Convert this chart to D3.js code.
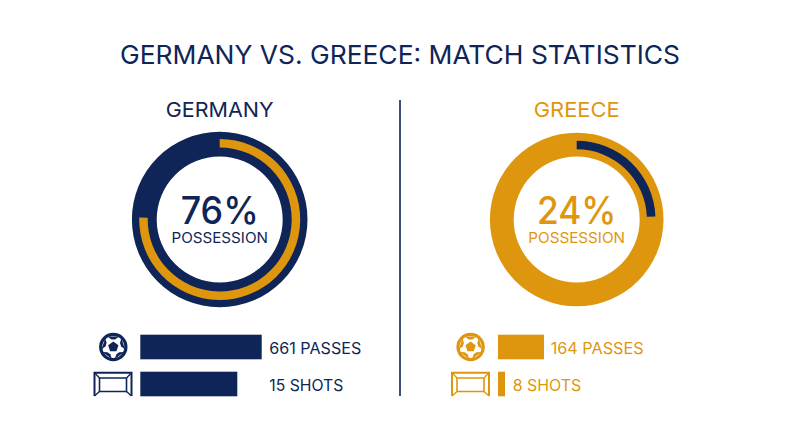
<!DOCTYPE html>
<html><head><meta charset="utf-8">
<script src="https://cdnjs.cloudflare.com/ajax/libs/d3/7.8.5/d3.min.js"></script>
<style>html,body{margin:0;padding:0;background:#fff}svg{display:block}text{font-family:Inter,"Open Sans",sans-serif}</style>
</head><body><svg id="c" width="800" height="447"></svg>
<script>
const titleText = "GERMANY VS. GREECE: MATCH STATISTICS";
const teams = ["GERMANY", "GREECE"];
const possession = [76, 24];
const ringDrawn = [75.4, 24.4];
const passes = [661, 164];
const shots = [15, 8];
const teamColors = ["#0f2557", "#df960f"];
const passLabel = "PASSES", shotLabel = "SHOTS", possessionLabel = "POSSESSION";

const svg = d3.select("#c");
const navy = teamColors[0];
const ringCx = [219.7, 576.7], ringCy = 219.5;
const barX = [140.3, 498];
const passX = d3.scaleLinear().domain([164, 661]).range([46, 121.4]);
const shotX = d3.scaleLinear().domain([8, 15]).range([7, 97]);
const angle = d3.scaleLinear().domain([0, 100]).range([0, 2 * Math.PI]);

function fit(t, len) { return t.attr("textLength", len).attr("lengthAdjust", "spacingAndGlyphs"); }

fit(svg.append("text").attr("x", 400).attr("y", 64.3).attr("text-anchor", "middle")
  .attr("font-size", 25.8).attr("font-weight", 400).attr("fill", navy).text(titleText), 560);

svg.append("line").attr("x1", 400).attr("x2", 400).attr("y1", 100).attr("y2", 396)
  .attr("stroke", navy).attr("stroke-width", 1.6);

const layout = [
  {name: 108, pct: 78, poss: 96.5, pl: 92, sl: 74, plx: 269.3, slx: 269.3, ballX: 113.3, goalX: 113, R: 87.8, a0: 72, a1: 80.5},
  {name: 86, pct: 79.5, poss: 96.7, pl: 93, sl: 68.6, plx: 550.7, slx: 512.7, ballX: 470.6, goalX: 470.5, R: 86.8, a0: 70.2, a1: 78.8}
];

teams.forEach((team, i) => {
  const fg = teamColors[i], other = teamColors[1 - i];
  const g = svg.append("g");
  const L = layout[i], cx = ringCx[i];
  fit(g.append("text").attr("x", cx).attr("y", 116.7).attr("text-anchor", "middle")
    .attr("font-size", 20.6).attr("fill", fg).text(team), L.name);

  const ring = g.append("g").attr("transform", `translate(${cx},${ringCy})`);
  ring.append("path").attr("fill", fg)
    .attr("d", d3.arc().innerRadius(63).outerRadius(L.R).startAngle(0).endAngle(2 * Math.PI)());
  ring.append("path").attr("fill", other)
    .attr("d", d3.arc().innerRadius(L.a0).outerRadius(L.a1).startAngle(0).endAngle(angle(ringDrawn[i]))());

  fit(g.append("text").attr("x", cx).attr("y", 224).attr("text-anchor", "middle")
    .attr("font-size", 37.5).attr("font-weight", 500).attr("fill", fg).text(possession[i] + "%"), L.pct);
  fit(g.append("text").attr("x", cx).attr("y", 243.3).attr("text-anchor", "middle")
    .attr("font-size", 14.5).attr("fill", fg).text(possessionLabel), L.poss);

  g.append("rect").attr("x", barX[i]).attr("y", 334.7).attr("height", 24.6)
    .attr("width", passX(passes[i])).attr("fill", fg);
  g.append("rect").attr("x", barX[i]).attr("y", 371.7).attr("height", 24.6)
    .attr("width", shotX(shots[i])).attr("fill", fg);

  fit(g.append("text").attr("x", L.plx).attr("y", 353.8).attr("font-size", 15.6)
    .attr("fill", fg).text(passes[i] + " " + passLabel), L.pl);
  fit(g.append("text").attr("x", L.slx).attr("y", 390.8).attr("font-size", 15.6)
    .attr("fill", fg).text(shots[i] + " " + shotLabel), L.sl);

  // ball icon
  const ball = g.append("g").attr("transform", `translate(${L.ballX},347)`);
  ball.append("circle").attr("r", 14.2).attr("fill", fg);
  ball.append("circle").attr("r", 11).attr("fill", "#fff");
  const poly = (r, n) => d3.range(n).map(k => {
    const a = k * 2 * Math.PI / n; return [r * Math.sin(a), -r * Math.cos(a)];
  });
  ball.append("path").attr("fill", fg).attr("d", d3.line()(poly(5.4, 5)) + "Z");
  d3.range(5).forEach(k => {
    const a = k * 2 * Math.PI / 5;
    const p = (r, d) => [r * Math.sin(a + d), -r * Math.cos(a + d)];
    ball.append("path").attr("fill", fg)
      .attr("d", d3.line()([p(12, -0.52), p(7.8, -0.22), p(7.8, 0.22), p(12, 0.52)]) + "Z");
  });

  // goal icon
  const goal = g.append("g").attr("transform", `translate(${L.goalX},384)`)
    .attr("fill", "none").attr("stroke", fg);
  goal.append("path").attr("stroke-width", 2).attr("d", "M-18.5,12 V-11.3 H18.5 V12");
  goal.append("path").attr("stroke-width", 1.6).attr("d", "M-13.5,-6 H13.5 V7.5 H-13.5 Z");
  goal.append("path").attr("stroke-width", 1.3).attr("d", "M-18.5,-11.3 L-13.5,-6 M18.5,-11.3 L13.5,-6 M-18.5,12 L-13.5,7.5 M18.5,12 L13.5,7.5");
});
</script></body></html>
